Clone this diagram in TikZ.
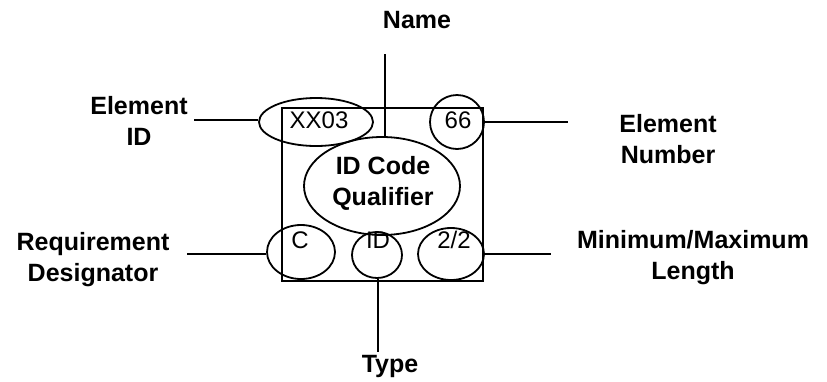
\documentclass[tikz,border=0pt]{standalone}
\usepackage{fontspec}
\setmainfont{Liberation Sans}
\usetikzlibrary{shapes.geometric}
\begin{document}
\begin{tikzpicture}[x=1pt,y=-1pt,
  oval/.style={draw,ellipse,line width=1.8pt,inner sep=0pt},
  lead/.style={line width=2.6pt},
  lbl/.style={font=\fontsize{25}{31}\selectfont\bfseries,align=center,anchor=base,inner sep=0pt},
  val/.style={font=\fontsize{24}{28}\selectfont,anchor=base,inner sep=0pt}]
\useasboundingbox[fill=white] (0,0) rectangle (827,381);
% frame
\node[draw,line width=2.6pt,minimum width=201pt,minimum height=173pt,inner sep=0pt] (frame) at (382.5,194.5) {};
% ellipses
\node[oval,minimum width=114pt,minimum height=48pt] (xx) at (316,122) {};
\node[oval,minimum width=54pt,minimum height=54pt] (six) at (457,122) {};
\node[oval,minimum width=156pt,minimum height=98pt] (qual) at (382,186) {};
\node[oval,minimum width=68pt,minimum height=54pt] (creq) at (301,252) {};
\node[oval,minimum width=50pt,minimum height=46pt] (idt) at (377,255) {};
\node[oval,minimum width=66pt,minimum height=52pt] (len) at (451,254) {};
% values
\node[val] (txx) at (319,128) {XX03};
\node[val] (t66) at (458,128) {66};
\node[lbl] (tqual) at (383,205) {ID Code\\Qualifier};
\node[val] (tc) at (300,248) {C};
\node[val] (tid) at (378,248) {ID};
\node[val] (t22) at (454,248) {2/2};
% labels
\node[lbl] (name) at (417,28) {Name};
\node[lbl] (eid) at (139,145) {Element\\ID};
\node[lbl] (enum) at (668,163) {Element\\Number};
\node[lbl] (req) at (93,281) {Requirement\\Designator};
\node[lbl] (mml) at (693,279) {Minimum/Maximum\\Length};
\node[lbl] (type) at (390,372) {Type};
% leader ends
\coordinate (cname) at (385,54);
\coordinate (ceid) at (194,120);
\coordinate (cenum) at (568,122);
\coordinate (creqe) at (187,254);
\coordinate (cmml) at (551,254);
\coordinate (ctype) at (378,352);
% leaders
\draw[lead] (cname) -- (cname |- qual.north);
\draw[lead] (ceid) -- (ceid -| xx.west);
\draw[lead] (cenum -| six.east) -- (cenum);
\draw[lead] (creqe) -- (creqe -| creq.west);
\draw[lead] (cmml -| len.east) -- (cmml);
\draw[lead] (ctype |- idt.south) -- (ctype);
\end{tikzpicture}
\end{document}
